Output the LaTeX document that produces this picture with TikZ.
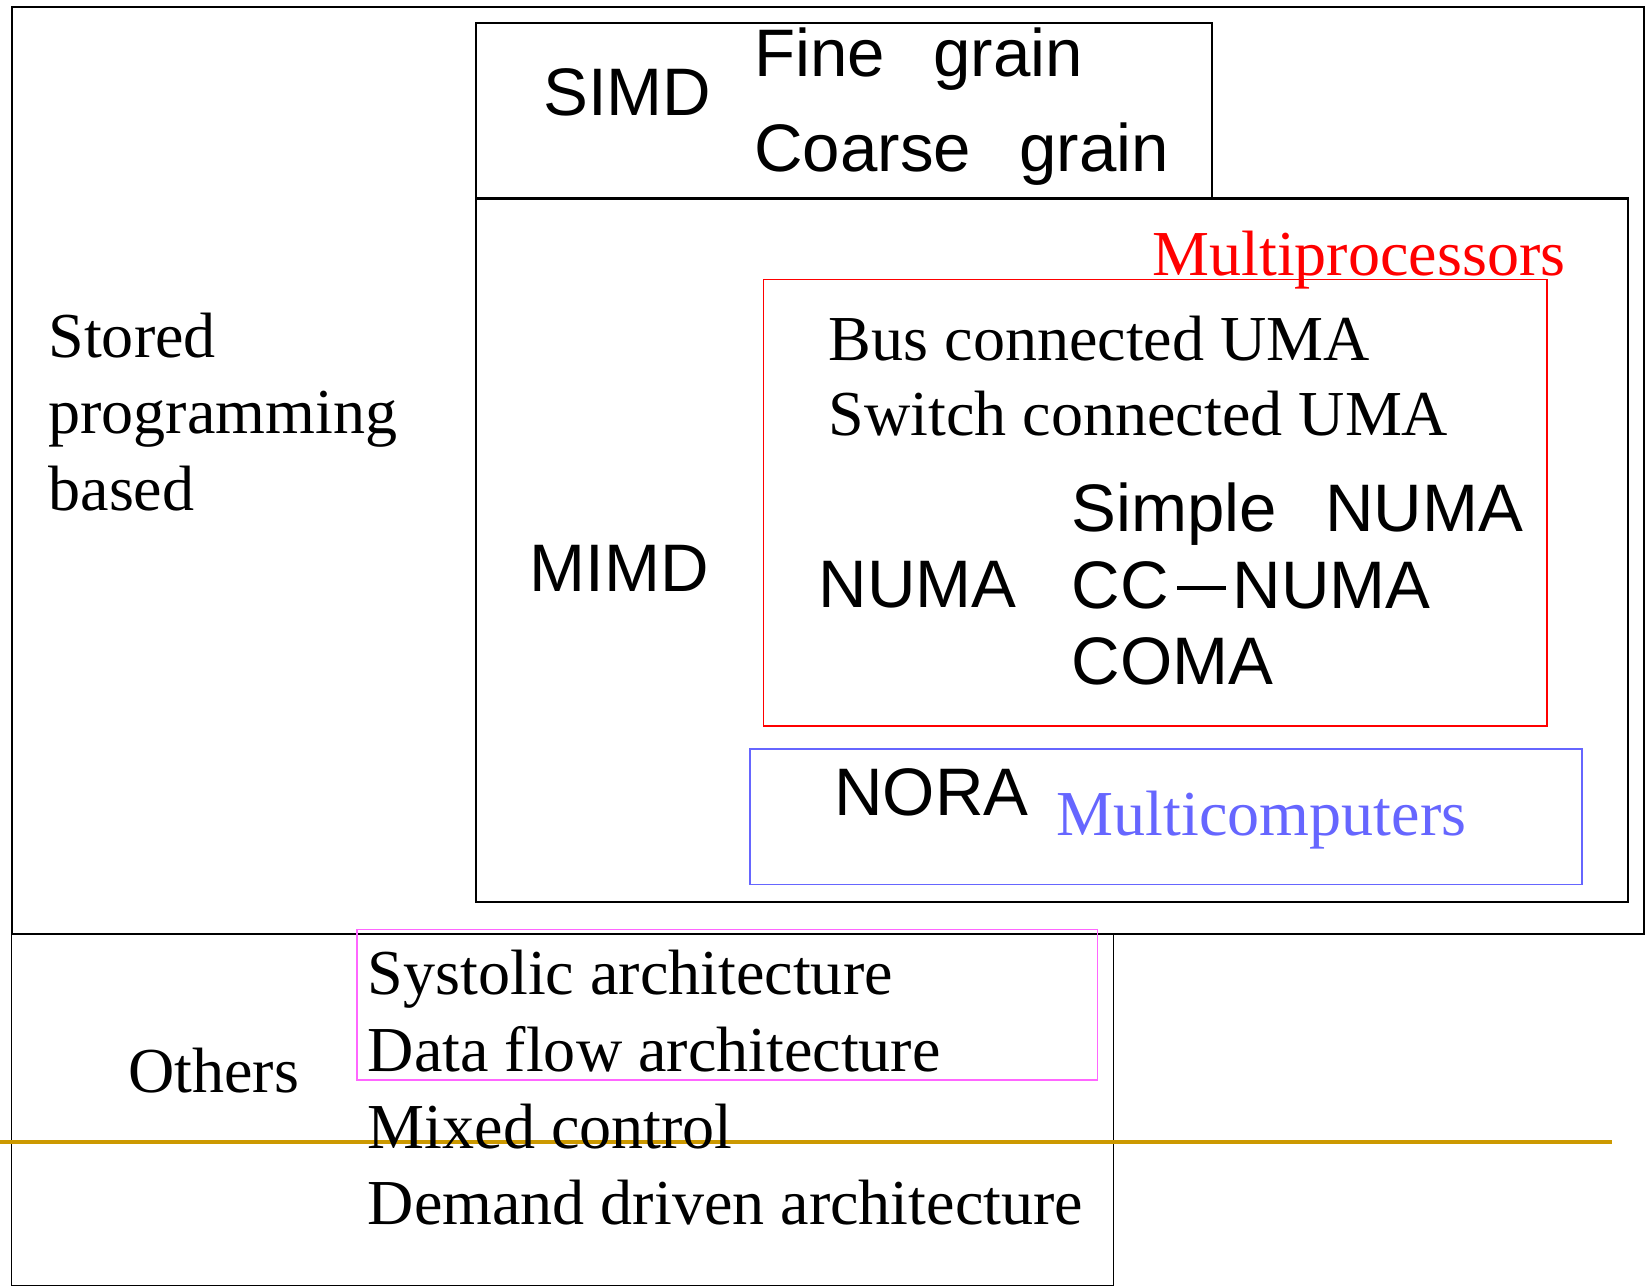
\documentclass[tikz,border=0pt]{standalone}
\usepackage{fontspec}
\setmainfont{Liberation Serif}
\newfontfamily\gothic{Liberation Sans}
\definecolor{goldline}{RGB}{204,153,0}
\definecolor{mpred}{RGB}{255,0,0}
\definecolor{mcblue}{RGB}{102,102,255}
\definecolor{othmag}{RGB}{255,102,255}
\tikzset{
  frame/.style={draw=black, line width=2pt, rectangle, inner sep=0pt, outer sep=0pt, anchor=north west},
  thinframe/.style={frame, line width=1.5pt},
  serif/.style={anchor=base west, inner sep=0pt, font=\fontsize{61}{73}\selectfont},
  sans/.style={anchor=base west, inner sep=0pt, font=\gothic\fontsize{64}{73}\selectfont},
}
\newcommand{\wgap}{\hspace{0.72em}}
\begin{document}
\begin{tikzpicture}[x=1pt,y=-1pt]
\useasboundingbox (0,0) rectangle (1568,1225);
% boxes
\node[frame, minimum width=1554pt, minimum height=882pt] (stored) at (11,7) {};
\node[thinframe, minimum width=1049pt, minimum height=335pt] (others) at (11,889) {};
\node[frame, minimum width=701pt, minimum height=167pt] (simd) at (453,22) {};
\node[frame, minimum width=1097pt, minimum height=670pt] (mimd) at (453,189) {};
\node[thinframe, draw=mpred, minimum width=746pt, minimum height=425pt] (mproc) at (727,266) {};
\node[thinframe, draw=mcblue, minimum width=792pt, minimum height=129pt] (mcomp) at (714,713) {};
\node[thinframe, draw=othmag, minimum width=705pt, minimum height=143pt] (dflow) at (340,885) {};
% horizontal rule across the lower part
\coordinate (ruleL) at (0,1087);
\coordinate (ruleR) at (1535,1087);
\draw[goldline, line width=4pt] (ruleL) -- (ruleR);
% SIMD
\node[sans] (tsimd) at (517,110) {SIMD};
\node[sans] (tfine) at (718,73) {Fine\wgap grain};
\node[sans] (tcoarse) at (718,163) {Coarse\wgap grain};
% stored programming
\node[serif] (ts1) at (46,340) {Stored};
\node[serif] (ts2) at (46,413) {programming};
\node[serif] (ts3) at (46,486) {based};
% MIMD
\node[sans] (tmimd) at (504,563) {MIMD};
\node[serif, text=mpred] (tmp) at (1097,262) {Multiprocessors};
\node[serif] (tbus) at (789,343) {Bus connected UMA};
\node[serif] (tsw) at (789,415) {Switch connected UMA};
\node[sans] (tnuma) at (779,578) {NUMA};
\node[sans] (tsnuma) at (1020,506) {Simple\wgap NUMA};
\node[sans] (tccnuma) at (1020,579) {CC\hspace{8pt}\rule[17pt]{47pt}{4.5pt}\hspace{6pt}NUMA};
\node[sans] (tcoma) at (1020,652) {COMA};
\node[sans] (tnora) at (794,776) {NORA};
\node[serif, text=mcblue] (tmc) at (1006,795) {Multicomputers};
% others
\node[serif] (toth) at (122,1040) {Others};
\node[serif] (tsys) at (350,947) {Systolic architecture};
\node[serif] (tdf) at (350,1020) {Data flow architecture};
\node[serif] (tmix) at (350,1093) {Mixed control};
\node[serif] (tdem) at (350,1166) {Demand driven architecture};
\end{tikzpicture}
\end{document}
